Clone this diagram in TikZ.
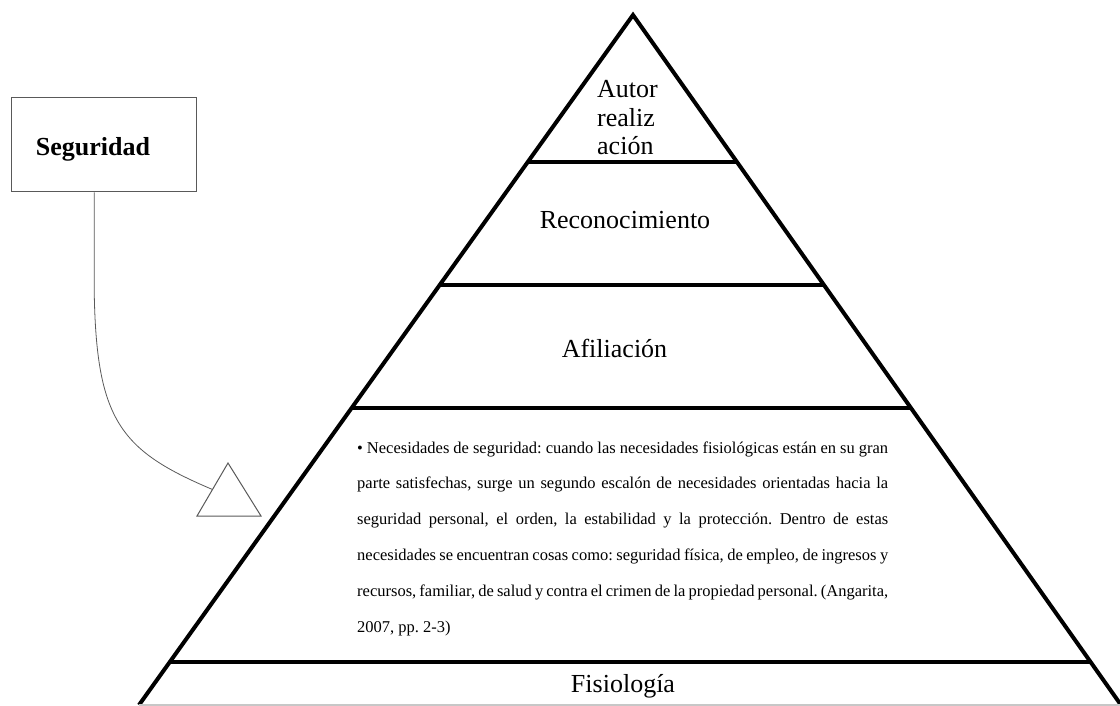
\documentclass[tikz,border=0pt]{standalone}
\usepackage{fontspec}
\setmainfont{Liberation Serif}
\usetikzlibrary{calc}
\begin{document}
\begin{tikzpicture}[x=1pt,y=-1pt,
  level/.style={line width=4pt,line cap=butt},
  side/.style={line width=4pt,line join=miter},
  thin/.style={draw=black!65,line width=1pt},
  lbl/.style={font=\fontsize{26}{28.5}\selectfont,inner sep=0pt,anchor=base},
  para/.style={font=\fontsize{16.5}{35.8}\selectfont,inner sep=0pt,text width=531pt,align=justify,anchor=base west}]
\useasboundingbox (0,0) rectangle (1120,706);
% pyramid
\coordinate (A) at (633,15);
\coordinate (L) at (139,705);
\coordinate (R) at (1121,705);
\draw[side] (L) -- (A) -- (R);
\foreach \yy/\nm in {162/l1,285/l2,408/l3,662/l4}{
  \pgfmathsetmacro{\tt}{(\yy-15)/690}
  \coordinate (\nm a) at ($(A)!\tt!(L)$);
  \coordinate (\nm b) at ($(A)!\tt!(R)$);
  \draw[level] (\nm a) -- (\nm b);
}
\draw[black!22,line width=1.2pt] (L) -- (1120,705);
% labels
\node[font=\fontsize{26}{28.5}\selectfont,inner sep=0pt,align=left,anchor=west] (autor) at (597,118) {Autor\\realiz\\ación};
\node[lbl] (recon) at (625,229) {Reconocimiento};
\node[lbl] (afil) at (614.5,357) {Afiliación};
\node[lbl] (fisio) at (623,692) {Fisiología};
\node[para] (texto) at (357,453) {\frenchspacing\hyphenpenalty=10000 • Necesidades de seguridad: cuando las necesidades fisiológicas están en su gran\linebreak parte satisfechas, surge un segundo escalón de necesidades orientadas hacia la\linebreak seguridad personal, el orden, la estabilidad y la protección. Dentro de estas\linebreak necesidades se encuentran cosas como: seguridad física, de empleo, de ingresos y\linebreak recursos, familiar, de salud y contra el crimen de la propiedad personal. (Angarita,\linebreak 2007, pp. 2-3)};
% seguridad box
\node[thin,draw,minimum width=185pt,minimum height=94pt,inner sep=0pt] (box) at (103.5,145) {};
\node[font=\fontsize{26}{28.5}\selectfont\bfseries,inner sep=0pt,anchor=base] (seg) at (93,156) {Seguridad};
% small triangle
\coordinate (ta) at (228,463);
\coordinate (tl) at (197,516);
\coordinate (tr) at (261,516);
\draw[thin,line join=miter] (ta) -- (tl) -- (tr) -- cycle;
\coordinate (tin) at ($(ta)!0.5!(tl)$);
\coordinate (bout) at ($(box.south west)!0.45!(box.south east)$);
\coordinate (bmid) at ($(bout)+(0,98)$);
\draw[thin,line width=0.8pt] (bout) -- (bmid) .. controls ($(bmid)+(2,130)$) and ($(bmid)+(26,160)$) .. (tin);
\end{tikzpicture}
\end{document}
